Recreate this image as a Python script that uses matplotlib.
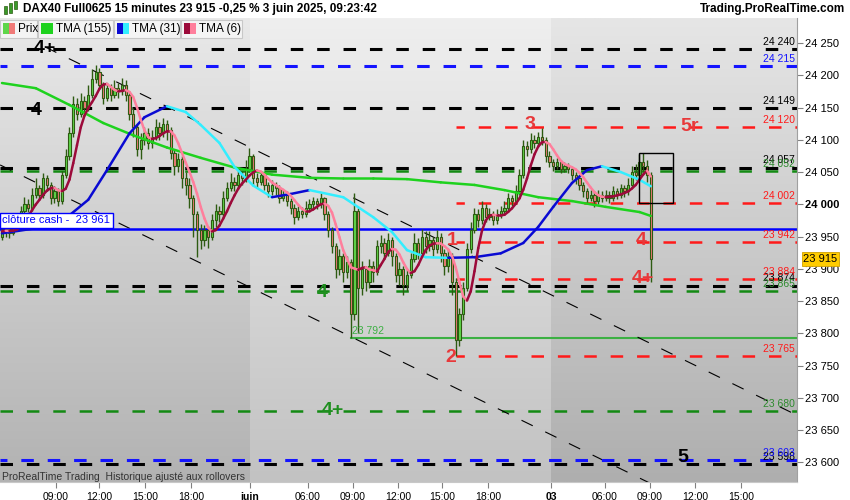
import matplotlib
matplotlib.use("Agg")
import matplotlib.pyplot as plt
import matplotlib.transforms as mtransforms
import numpy as np
import pandas as pd
from matplotlib.collections import LineCollection
from matplotlib.patches import Rectangle

plt.rcParams['font.family'] = ['Liberation Sans', 'DejaVu Sans']
plt.rcParams['lines.scale_dashes'] = False

# bougies 15 min (lecture du graphique), open = close précédent
first_open = 23950
closes = [23958, 23962, 23955, 23965, 23975, 23990, 24000, 23995, 24015, 24025,
          24015, 24040, 24030, 24010, 24020, 24005, 24045, 24075, 24110, 24155,
          24140, 24160, 24150, 24170, 24195, 24205, 24185, 24165, 24180, 24170,
          24180, 24175, 24185, 24170, 24140, 24120, 24085, 24100, 24110, 24095,
          24105, 24120, 24110, 24125, 24115, 24080, 24060, 24070, 24040, 24030,
          24010, 23985, 23960, 23945, 23960, 23950, 23975, 23990, 23985, 24010,
          24025, 24035, 24030, 24045, 24040, 24055, 24075, 24040, 24035, 24045,
          24030, 24020, 24030, 24025, 24010, 24015, 24005, 23995, 23980, 23990,
          23985, 23995, 24000, 24005, 24000, 24010, 23985, 23960, 23935, 23900,
          23920, 23895, 23910, 23830, 23990, 23870, 23900, 23880, 23905, 23895,
          23935, 23940, 23925, 23945, 23920, 23890, 23900, 23875, 23890, 23915,
          23940, 23925, 23950, 23935, 23945, 23930, 23950, 23925, 23905, 23920,
          23880, 23790, 23830, 23870, 23930, 23960, 23985, 23975, 23995, 23980,
          23985, 23975, 23985, 23990, 23995, 24010, 24005, 24020, 24045, 24090,
          24085, 24100, 24095, 24105, 24100, 24075, 24065, 24060, 24065, 24055,
          24060, 24055, 24045, 24040, 24030, 24020, 24010, 24015, 24005, 24015,
          24010, 24015, 24010, 24020, 24015, 24025, 24020, 24030, 24050, 24045,
          24065, 24060, 24045, 23915]
highs = [23966, 23968, 23966, 23972, 23985, 23998, 24012, 24008, 24025, 24040,
         24030, 24048, 24045, 24035, 24028, 24025, 24052, 24085, 24120, 24168,
         24165, 24172, 24168, 24185, 24210, 24216, 24212, 24190, 24188, 24186,
         24192, 24188, 24196, 24192, 24175, 24150, 24125, 24110, 24120, 24118,
         24115, 24132, 24128, 24134, 24130, 24120, 24085, 24080, 24075, 24050,
         24040, 24015, 23990, 23970, 23968, 23966, 23985, 24000, 23998, 24020,
         24035, 24048, 24042, 24058, 24052, 24068, 24087, 24078, 24048, 24052,
         24050, 24035, 24038, 24035, 24030, 24022, 24020, 24010, 24000, 23998,
         23996, 24005, 24008, 24012, 24010, 24018, 24012, 23990, 23965, 23940,
         23930, 23925, 23920, 23915, 24017, 23995, 23912, 23905, 23915, 23912,
         23945, 23952, 23948, 23955, 23950, 23925, 23910, 23905, 23900, 23925,
         23955, 23948, 23962, 23958, 23958, 23950, 23960, 23955, 23930, 23930,
         23925, 23885, 23840, 23880, 23940, 23972, 23995, 23992, 24005, 24000,
         23995, 23990, 23992, 23998, 24005, 24018, 24015, 24030, 24055, 24100,
         24098, 24110, 24108, 24112, 24118, 24105, 24082, 24070, 24072, 24068,
         24066, 24064, 24058, 24050, 24045, 24035, 24025, 24022, 24020, 24022,
         24020, 24022, 24020, 24028, 24026, 24032, 24030, 24040, 24060, 24062,
         24078, 24080, 24068, 24050]
lows = [23945, 23950, 23948, 23952, 23960, 23970, 23985, 23988, 23990, 24010,
        24008, 24010, 24020, 24000, 24002, 23998, 24000, 24040, 24068, 24105,
        24130, 24135, 24140, 24145, 24165, 24188, 24178, 24155, 24160, 24160,
        24165, 24165, 24170, 24160, 24130, 24105, 24075, 24070, 24092, 24085,
        24088, 24100, 24100, 24105, 24100, 24070, 24045, 24050, 24025, 24015,
        23995, 23950, 23918, 23930, 23935, 23932, 23945, 23965, 23972, 23980,
        24005, 24020, 24020, 24025, 24030, 24035, 24050, 24030, 24025, 24030,
        24022, 24012, 24015, 24015, 24002, 24005, 23998, 23985, 23970, 23975,
        23978, 23980, 23990, 23995, 23992, 23995, 23975, 23950, 23925, 23885,
        23890, 23880, 23885, 23792, 23820, 23800, 23860, 23865, 23870, 23880,
        23890, 23925, 23915, 23920, 23905, 23880, 23875, 23860, 23865, 23885,
        23910, 23915, 23920, 23925, 23928, 23920, 23925, 23910, 23890, 23895,
        23860, 23765, 23780, 23820, 23865, 23925, 23955, 23965, 23970, 23972,
        23975, 23968, 23970, 23978, 23985, 23990, 23998, 24000, 24015, 24040,
        24075, 24080, 24088, 24090, 24092, 24065, 24058, 24052, 24055, 24048,
        24050, 24048, 24038, 24032, 24022, 24012, 24002, 24005, 23996, 24000,
        24003, 24005, 24002, 24005, 24008, 24010, 24012, 24015, 24025, 24038,
        24040, 24050, 24035, 23880]

# TMA(155) et TMA(31) (barre, valeur)
tma155_bars = [0, 9, 18, 27, 35, 44, 53, 62, 72, 82, 91, 99, 108, 117, 126, 134, 143, 152, 161, 170, 173]
tma155_vals = [24188, 24180, 24154, 24126, 24107, 24088, 24072, 24057, 24046, 24041, 24040, 24040,
               24039, 24034, 24030, 24022, 24011, 24005, 23996, 23988, 23982]
tma31_bars = [0, 8, 14, 18, 23, 28, 34, 38, 44, 49, 53, 58, 62, 67, 72, 77, 82, 91, 99, 104, 108,
              113, 119, 126, 133, 139, 143, 147, 152, 156, 160, 165, 170, 173]
tma31_vals = [23955, 23962, 23972, 23983, 24007, 24053, 24110, 24135, 24152, 24143, 24123, 24095,
              24058, 24029, 24011, 24016, 24022, 24011, 23980, 23957, 23929, 23918, 23917, 23918,
              23924, 23940, 23965, 23996, 24033, 24053, 24059, 24050, 24038, 24028]

# niveaux
black_levels = [24240, 24149, 24057, 23874, 23598]
blue_levels = [24215, 23603]
green_levels = [24052, 23865, 23680]
red_levels = [24120, 24002, 23942, 23884, 23765]
cash_close = 23961
low_792 = 23792
last_price = 23915

xtick_pos = [14.4, 25.9, 38.1, 50.4, 66.1, 81.6, 93.6, 105.6, 117.3, 129.6, 146.4, 160.8, 172.8, 184.8, 197.1]
xtick_lbl = ['09:00', '12:00', '15:00', '18:00', 'juin', '06:00', '09:00', '12:00', '15:00', '18:00',
             '03', '06:00', '09:00', '12:00', '15:00']

YMIN, YMAX = 23569.5, 24288.8
XMIN, XMAX = -0.53, 212.0

fig = plt.figure(figsize=(8.5, 5), dpi=100)
fig.patch.set_facecolor('white')
ax = fig.add_axes([0, 18 / 500, 797 / 850, 464 / 500])
ax.set_xlim(XMIN, XMAX)
ax.set_ylim(YMIN, YMAX)

# fond en dégradé par journée
regions = [(XMIN, 66.1, '#e9e9e9', '#b2b2b2'),
           (66.1, 146.4, '#efefef', '#c2c2c2'),
           (146.4, XMAX, '#e6e6e6', '#aeaeae')]
for x0, x1, ctop, cbot in regions:
    t = np.linspace(0, 1, 200)[:, None]
    c0 = np.array(matplotlib.colors.to_rgb(ctop))
    c1 = np.array(matplotlib.colors.to_rgb(cbot))
    img = (c0 * (1 - t) + c1 * t)[:, None, :]
    ax.imshow(img, extent=[x0, x1, YMIN, YMAX], aspect='auto', origin='upper', zorder=0)

n = len(closes)
idx = np.arange(n)
opens = np.array([first_open] + closes[:-1])
closes_a = np.array(closes)

# lignes horizontales
dash = (0, (9, 10))
for lv in black_levels:
    ax.axhline(lv, color='black', lw=2.2, ls=dash, zorder=1)
for lv in blue_levels:
    ax.axhline(lv, color='#1414ff', lw=2.2, ls=(4, (9, 10)), zorder=1.1)
for lv in green_levels:
    ax.axhline(lv, color='#138a13', lw=1.8, ls=dash, zorder=1)
for lv in red_levels:
    ax.plot([121, XMAX], [lv, lv], color='#ff1a1a', lw=1.8, ls=(3, (9, 10)), zorder=1)
ax.plot([93, XMAX], [low_792, low_792], color='#3cb043', lw=1.5, zorder=1)
ax.axhline(cash_close, color='#0000ff', lw=1.8, zorder=1.2)

# canal baissier
ax.plot([11.5, 212.0], [24243.9, 23673.0], color='black', lw=0.8, ls=(0, (9, 10)), zorder=1)
ax.plot([-0.5, 175.5], [24061.0, 23560.0], color='black', lw=0.8, ls=(0, (9, 10)), zorder=1)

# bougies
edge = '#2e5b12'
fills = np.where(closes_a >= opens, '#5fd64a', '#f07a78')
ax.vlines(idx, lows, highs, color=edge, lw=1.0, zorder=2)
body_h = np.abs(closes_a - opens)
ax.bar(idx, np.maximum(body_h, 1), bottom=np.minimum(opens, closes_a), width=0.62,
       color=fills, edgecolor=edge, linewidth=0.8, zorder=2.1)


def slope_line(xs, ys, up, down, lw):
    pts = np.column_stack([xs, ys])
    segs = np.stack([pts[:-1], pts[1:]], axis=1)
    cols = [up if ys[i + 1] >= ys[i] else down for i in range(len(ys) - 1)]
    ax.add_collection(LineCollection(segs, colors=cols, linewidths=lw, zorder=3,
                                     capstyle='round', joinstyle='round'))


slope_line(np.array(tma155_bars), np.array(tma155_vals), '#1ed21e', '#1ed21e', 1.8)
slope_line(np.array(tma31_bars), np.array(tma31_vals), '#0a0ad2', '#33eeff', 1.8)
tma6 = pd.Series(closes_a, dtype=float).rolling(3, min_periods=1).mean().rolling(4, min_periods=1).mean()
slope_line(idx.astype(float), tma6.values, '#9c0a3a', '#ff7f9c', 1.8)

# cadre noir
ax.add_patch(Rectangle((169.9, 24002), 9.0, 78, fill=False, ec='black', lw=1.0, zorder=3.5))

# étiquettes des niveaux à droite
lab_x = 211.5
def lvl_label(lv, txt, col):
    ax.annotate(txt, (lab_x, lv), xytext=(0, 1.5), textcoords='offset points', ha='right',
                va='bottom', fontsize=7.5, color=col, zorder=4)

fmt = lambda v: f"{int(v):,}".replace(',', ' ')
for lv in black_levels:
    lvl_label(lv, fmt(lv), 'black')
for lv in blue_levels:
    lvl_label(lv, fmt(lv), '#1414ff')
for lv in green_levels:
    lvl_label(lv, fmt(lv), '#2e8b2e')
for lv in red_levels:
    lvl_label(lv, fmt(lv), '#ff1a1a')
ax.annotate(fmt(low_792), (93.3, low_792), xytext=(0, 1.5), textcoords='offset points',
            ha='left', va='bottom', fontsize=7.5, color='#3cb043', zorder=4)

# repères de vagues
big = dict(fontsize=14, fontweight='bold', ha='center', va='center', zorder=4)
ax.text(11.5, 24242, '4+', color='black', **big)
ax.text(9.1, 24146, '4', color='black', **big)
ax.text(85.3, 23864, '4', color='#1f8f1f', **big)
ax.text(88.3, 23681, '4+', color='#1f8f1f', **big)
ax.text(181.6, 23607, '5', color='black', **big)
red = '#e8383a'
ax.text(120.0, 23944, '1', color=red, **big)
ax.text(119.7, 23763, '2', color=red, **big)
ax.text(140.8, 24123, '3', color=red, **big)
ax.text(183.5, 24120, '5r', color=red, **big)
ax.text(170.4, 23944, '4', color=red, **big)
ax.text(171.0, 23885, '4+', color=red, **big)

# étiquette clôture cash
trans = mtransforms.blended_transform_factory(ax.transAxes, ax.transData)
ax.annotate('clôture cash -  ' + fmt(cash_close), (0.003, cash_close), xycoords=trans,
            xytext=(0, 3), textcoords='offset points', ha='left', va='bottom', fontsize=8,
            color='#0000ff', zorder=6,
            bbox=dict(boxstyle='square,pad=0.25', fc='white', ec='#0000ff', lw=1))

ax.text(0.004, 23578, 'ProRealTime Trading  Historique ajusté aux rollovers', fontsize=7.5,
        color='#333333', ha='left', va='center', zorder=4)

# axes
for s in ['top', 'left']:
    ax.spines[s].set_visible(False)
ax.spines['right'].set_color('#a0a0a0')
ax.spines['bottom'].set_color('#c8c8c8')
ax.yaxis.tick_right()
yt = list(range(23600, 24251, 50))
ax.set_yticks(yt, [fmt(v) for v in yt])
ax.tick_params(axis='y', length=4, color='#808080', labelsize=8, pad=2)
for t in ax.get_yticklabels():
    if t.get_text() == '24 000':
        t.set_fontweight('bold')
ax.set_xticks(xtick_pos, xtick_lbl)
ax.tick_params(axis='x', length=4, color='#808080', labelsize=7.5, pad=3)
for t in ax.get_xticklabels():
    if t.get_text() in ('juin', '03'):
        t.set_fontweight('bold')

ax.text(1.008, last_price, fmt(last_price), transform=trans, fontsize=8, va='center', ha='left',
        zorder=7, clip_on=False,
        bbox=dict(boxstyle='square,pad=0.15', fc='#ffcc00', ec='#d0a000', lw=0.6))

# titre
fig.text(23 / 850, 1 - 9 / 500, 'DAX40 Full0625 15 minutes 23 915 -0,25 % 3 juin 2025, 09:23:42',
         fontsize=8.5, fontweight='bold', va='center', ha='left')
fig.text(845 / 850, 1 - 9 / 500, 'Trading.ProRealTime.com', fontsize=8.5, fontweight='bold',
         va='center', ha='right')
for xx, y0, hh, cc in [(4, 6, 8, '#3a9a2a'), (9, 3, 10, '#3a9a2a'), (14, 1, 8, '#3a9a2a')]:
    fig.add_artist(Rectangle((xx / 850, 1 - (y0 + hh) / 500), 3 / 850, hh / 500,
                             fc=cc, ec='#2e5b12', lw=0.5, transform=fig.transFigure, zorder=10))

# onglets de légende
tabs = [(0, 37, 'Prix', ['#5fd64a', '#f07a78']),
        (38, 113, 'TMA (155)', ['#1ed21e']),
        (114, 180, 'TMA (31)', ['#0a0ad2', '#33eeff']),
        (181, 242, 'TMA (6)', ['#9c0a3a', '#ff7f9c'])]
for x0, x1, txt, cols in tabs:
    fig.add_artist(Rectangle((x0 / 850, 1 - 38 / 500), (x1 - x0) / 850, 18 / 500,
                             fc='#f4f4f4', ec='#c8c8c8', lw=0.8, transform=fig.transFigure, zorder=10))
    sw = 12 / len(cols)
    for k, c in enumerate(cols):
        fig.add_artist(Rectangle(((x0 + 3 + k * sw) / 850, 1 - 34 / 500), sw / 850, 11 / 500,
                                 fc=c, ec='none', transform=fig.transFigure, zorder=11))
    fig.text((x0 + 18) / 850, 1 - 29 / 500, txt, fontsize=8.5, va='center', ha='left', zorder=12)

fig.savefig('out.png', dpi=100)
